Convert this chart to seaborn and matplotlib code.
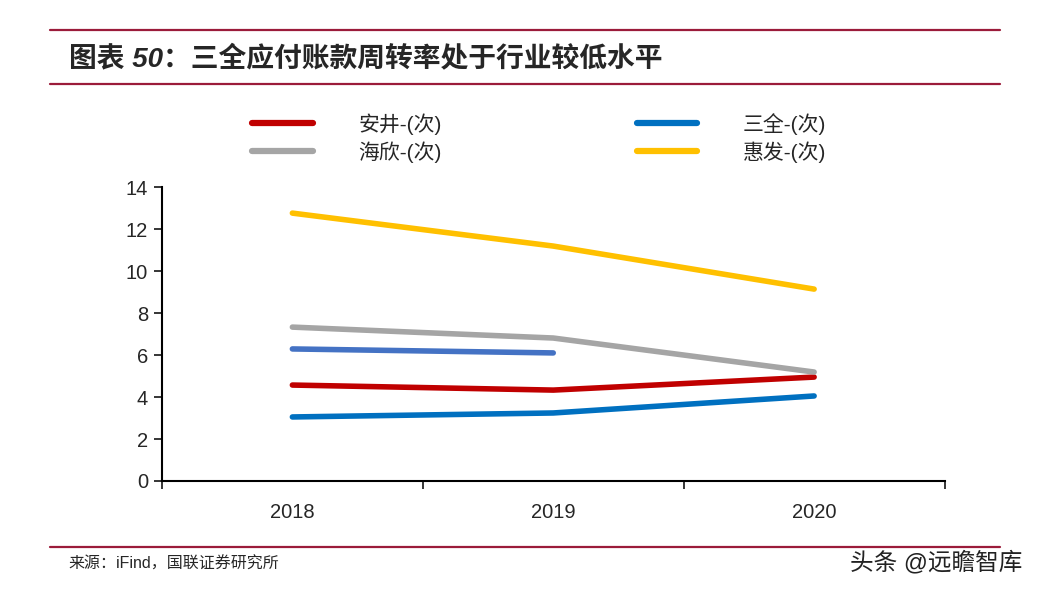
import matplotlib
matplotlib.use('Agg')

import seaborn as sns
import pandas as pd
import matplotlib.pyplot as plt
from matplotlib.lines import Line2D

# --- data ---
years = ['2018', '2019', '2020']
anjing = [4.57, 4.33, 4.95]
sanquan = [3.05, 3.24, 4.05]
haixin = [7.33, 6.81, 5.19]
huifa = [12.76, 11.19, 9.14]
extra = [6.29, 6.10]  # unlabelled series, only two years

series_names = ['安井-(次)', '海欣-(次)', '三全-(次)', '惠发-(次)']
series_values = [anjing, haixin, sanquan, huifa]
series_colors = ['#C00000', '#A5A5A5', '#0070C0', '#FFC000']

sns.set_theme(style="white")
plt.rcParams['font.family'] = ['Liberation Sans', 'Noto Sans CJK SC', 'DejaVu Sans']

fig = plt.figure(figsize=(10.38, 5.92), dpi=100)
ax = fig.add_axes([0.156, 0.1875, 0.754, 0.4965])

xs = list(range(len(years)))
handles = []
for name, vals, col in zip(series_names, series_values, series_colors):
    df = pd.DataFrame({'x': xs[:len(vals)], 'y': vals})
    sns.lineplot(data=df, x='x', y='y', ax=ax, color=col, linewidth=4,
                 solid_capstyle='round', solid_joinstyle='round')
    handles.append(Line2D([], [], color=col, linewidth=4.5, solid_capstyle='round'))

df_extra = pd.DataFrame({'x': xs[:len(extra)], 'y': extra})
sns.lineplot(data=df_extra, x='x', y='y', ax=ax, color='#4472C4', linewidth=4,
             solid_capstyle='round')

ax.set_xlim(-0.5, 2.5)
ax.set_ylim(0, 14)
ax.set_yticks(range(0, 15, 2))
ax.set_xticks(xs)
ax.set_xticklabels(years)
ax.set_xticks([-0.5, 0.5, 1.5, 2.5], minor=True)
ax.set_xlabel('')
ax.set_ylabel('')
ax.tick_params(axis='x', which='major', length=0, pad=16, labelsize=14.5)
ax.tick_params(axis='x', which='minor', length=6, width=1.3, direction='out', bottom=True)
ax.tick_params(axis='y', length=6, width=1.3, direction='out', left=True, labelsize=14.5, pad=4)
for s in ['top', 'right']:
    ax.spines[s].set_visible(False)
for s in ['left', 'bottom']:
    ax.spines[s].set_color('black')
    ax.spines[s].set_linewidth(1.5)

fig.legend(handles, series_names, ncol=2, loc='upper left',
           bbox_to_anchor=(0.225, 0.841), frameon=False, fontsize=15,
           handlelength=2.9, handletextpad=2.2, columnspacing=9.35,
           labelspacing=0.3)

# header / footer rules
for y in [0.949, 0.858, 0.076]:
    fig.add_artist(Line2D([0.048, 0.963], [y, y], color='#9B1B3A', linewidth=1.6))

fig.text(0.066, 0.9, '图表 50：三全应付账款周转率处于行业较低水平', fontsize=20,
         fontweight='bold', fontstyle='italic', va='center',
         family=['Liberation Sans', 'Noto Sans CJK SC'])
fig.text(0.066, 0.047, '来源：iFind，国联证券研究所', fontsize=11.5, va='center')
fig.text(0.985, 0.05, '头条 @远瞻智库', fontsize=17, va='center', ha='right',
         color='#222222')

fig.savefig('out.png', dpi=100)
